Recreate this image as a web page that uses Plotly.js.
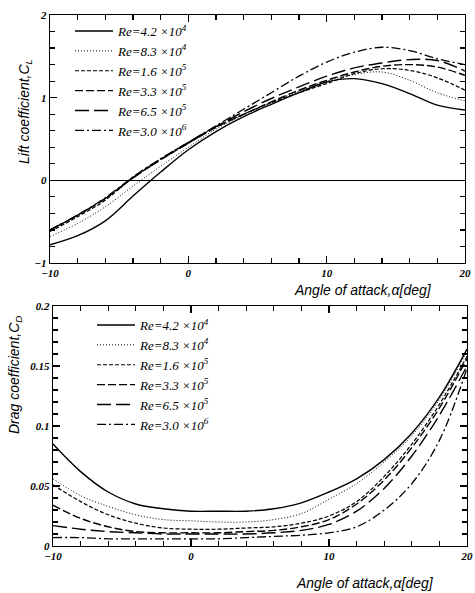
<!DOCTYPE html>
<html>
<head>
<meta charset="utf-8">
<script src="https://cdn.plot.ly/plotly-3.0.1.min.js"></script>
<style>html,body{margin:0;padding:0;background:#fff;}#chart{width:475px;height:593px;}</style>
</head>
<body>
<div id="chart"></div>
<script>
// Angle of attack [deg]
const alpha = [-10,-8,-6,-4,-2,0,2,4,6,8,10,12,14,16,18,20];

const seriesNames = [
  "Re=4.2 ×10<sup>4</sup>",
  "Re=8.3 ×10<sup>4</sup>",
  "Re=1.6 ×10<sup>5</sup>",
  "Re=3.3 ×10<sup>5</sup>",
  "Re=6.5 ×10<sup>5</sup>",
  "Re=3.0 ×10<sup>6</sup>"
];

// Lift coefficient C_L
const cl_42k  = [-0.78,-0.67,-0.49,-0.19,0.10,0.37,0.59,0.77,0.92,1.06,1.19,1.23,1.17,1.05,0.91,0.85];
const cl_83k  = [-0.68,-0.52,-0.32,-0.07,0.17,0.40,0.62,0.79,0.94,1.08,1.20,1.28,1.31,1.21,1.06,0.96];
const cl_160k = [-0.62,-0.44,-0.24,0.04,0.26,0.46,0.65,0.80,0.94,1.06,1.17,1.29,1.35,1.33,1.24,1.09];
const cl_330k = [-0.60,-0.42,-0.22,0.03,0.25,0.45,0.64,0.80,0.95,1.09,1.21,1.31,1.38,1.40,1.37,1.27];
const cl_650k = [-0.60,-0.42,-0.22,0.03,0.25,0.45,0.65,0.83,0.99,1.13,1.26,1.36,1.42,1.46,1.45,1.32];
const cl_3M   = [-0.60,-0.42,-0.21,0.04,0.26,0.46,0.66,0.86,1.06,1.26,1.43,1.55,1.61,1.57,1.47,1.40];

// Drag coefficient C_D
const cd_42k  = [0.085,0.062,0.045,0.035,0.031,0.029,0.029,0.029,0.031,0.036,0.045,0.056,0.072,0.094,0.124,0.164];
const cd_83k  = [0.056,0.042,0.033,0.026,0.022,0.021,0.020,0.020,0.022,0.027,0.039,0.052,0.070,0.092,0.122,0.162];
const cd_160k = [0.051,0.037,0.026,0.019,0.015,0.014,0.014,0.015,0.016,0.019,0.025,0.037,0.058,0.085,0.118,0.158];
const cd_330k = [0.034,0.023,0.016,0.012,0.011,0.011,0.011,0.012,0.013,0.016,0.022,0.035,0.055,0.082,0.115,0.156];
const cd_650k = [0.017,0.014,0.012,0.011,0.010,0.010,0.010,0.010,0.011,0.013,0.018,0.029,0.048,0.075,0.109,0.150];
const cd_3M   = [0.007,0.007,0.006,0.006,0.006,0.006,0.006,0.007,0.008,0.009,0.011,0.016,0.030,0.052,0.088,0.148];

const clSeries = [cl_42k, cl_83k, cl_160k, cl_330k, cl_650k, cl_3M];
const cdSeries = [cd_42k, cd_83k, cd_160k, cd_330k, cd_650k, cd_3M];

const styles = [
  {dash: "solid", width: 1.4},
  {dash: "1px,2px", width: 1},
  {dash: "4px,2px", width: 1.2},
  {dash: "8px,3px", width: 1.4},
  {dash: "14px,5px", width: 1.4},
  {dash: "9px,3px,2px,3px", width: 1.3}
];

const traces = [];
clSeries.forEach((s, i) => traces.push({
  x: alpha, y: s, type: "scatter", mode: "lines", name: seriesNames[i],
  line: {color: "#000", dash: styles[i].dash, width: styles[i].width, shape: "spline", smoothing: 1},
  xaxis: "x", yaxis: "y", legend: "legend"
}));
cdSeries.forEach((s, i) => traces.push({
  x: alpha, y: s, type: "scatter", mode: "lines", name: seriesNames[i],
  line: {color: "#000", dash: styles[i].dash, width: styles[i].width, shape: "spline", smoothing: 1},
  xaxis: "x2", yaxis: "y2", legend: "legend2"
}));

const W = 475, H = 593;
const tickFont = {family: "Liberation Serif", size: 11, color: "#000", style: "italic", weight: "bold"};
const axBase = {
  showgrid: false, showline: true, linecolor: "#000", linewidth: 1.2, mirror: "ticks",
  ticks: "inside", ticklen: 7, tickwidth: 1.2, tickcolor: "#000", tickfont: tickFont, zeroline: false
};
const legendFont = {family: "Liberation Serif", size: 13, color: "#000", style: "italic"};
const titleFont = {family: "Liberation Sans", size: 14, color: "#000", style: "italic"};

const layout = {
  width: W, height: H,
  margin: {l: 0, r: 0, t: 0, b: 0},
  paper_bgcolor: "#fff", plot_bgcolor: "#fff",
  showlegend: true,
  xaxis: Object.assign({}, axBase, {
    domain: [50/W, 465/W], range: [-10, 20], tickvals: [-10, 0, 10, 20],
    minor: {dtick: 2, ticks: "inside", ticklen: 5, tickcolor: "#000", tickwidth: 1.2}, anchor: "y"
  }),
  yaxis: Object.assign({}, axBase, {
    domain: [1 - 263/H, 1 - 15/H], range: [-1, 2], tickvals: [-1, 0, 1, 2],
    minor: {dtick: 0.2, ticks: "inside", ticklen: 5, tickcolor: "#000", tickwidth: 1.2}, anchor: "x",
    zeroline: true, zerolinecolor: "#000", zerolinewidth: 1.2
  }),
  xaxis2: Object.assign({}, axBase, {
    domain: [53/W, 467/W], range: [-10, 20], tickvals: [-10, 0, 10, 20],
    minor: {dtick: 2, ticks: "inside", ticklen: 5, tickcolor: "#000", tickwidth: 1.2}, anchor: "y2"
  }),
  yaxis2: Object.assign({}, axBase, {
    domain: [1 - 546/H, 1 - 306/H], range: [0, 0.2], tickvals: [0, 0.05, 0.1, 0.15, 0.2],
    ticktext: ["0", "0.05", "0.1", "0.15", "0.2"],
    minor: {dtick: 0.01, ticks: "inside", ticklen: 5, tickcolor: "#000", tickwidth: 1.2}, anchor: "x2"
  }),
  legend: {
    x: 70/W, y: 1 - 16/H, xanchor: "left", yanchor: "top",
    bgcolor: "rgba(0,0,0,0)", font: legendFont, itemwidth: 38, tracegroupgap: 0
  },
  legend2: {
    x: 92/W, y: 1 - 310/H, xanchor: "left", yanchor: "top",
    bgcolor: "rgba(0,0,0,0)", font: legendFont, itemwidth: 38, tracegroupgap: 0
  },
  annotations: [
    {text: "Lift coefficient,C<sub>L</sub>", xref: "paper", yref: "paper",
     x: 25/W, y: 1 - 112/H, textangle: -90, showarrow: false, font: titleFont,
     xanchor: "center", yanchor: "middle"},
    {text: "Angle of attack,α[deg]", xref: "paper", yref: "paper",
     x: 363/W, y: 1 - 290/H, showarrow: false, font: titleFont,
     xanchor: "center", yanchor: "middle"},
    {text: "Drag coefficient,C<sub>D</sub>", xref: "paper", yref: "paper",
     x: 15/W, y: 1 - 375/H, textangle: -90, showarrow: false, font: titleFont,
     xanchor: "center", yanchor: "middle"},
    {text: "Angle of attack,α[deg]", xref: "paper", yref: "paper",
     x: 365/W, y: 1 - 583/H, showarrow: false, font: titleFont,
     xanchor: "center", yanchor: "middle"}
  ]
};

Plotly.newPlot("chart", traces, layout, {staticPlot: true, displayModeBar: false});
</script>
</body>
</html>
